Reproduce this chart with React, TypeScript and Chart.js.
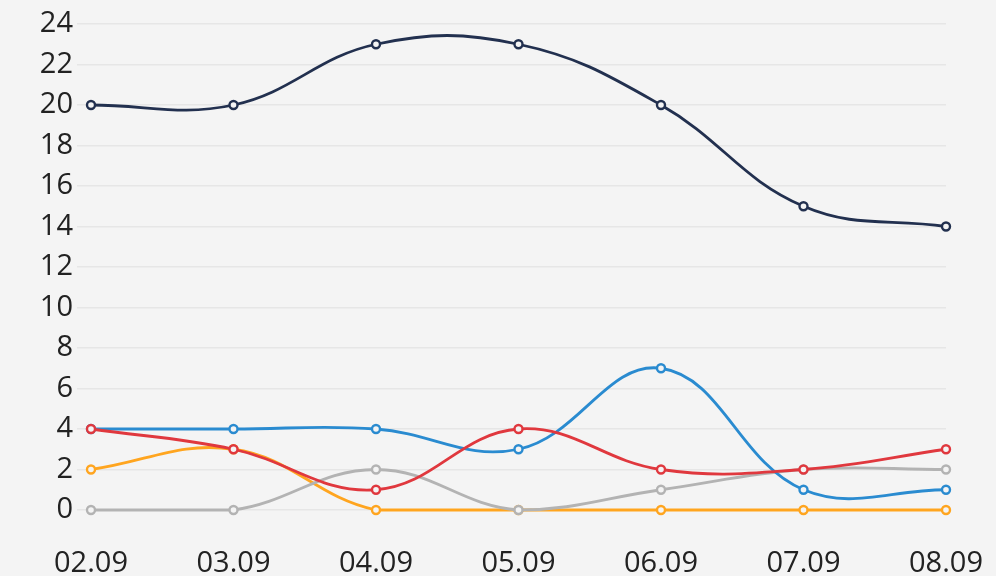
import React, { useEffect, useRef } from "react";
import { Chart, registerables } from "chart.js";

Chart.register(...registerables);

const categories = ["02.09", "03.09", "04.09", "05.09", "06.09", "07.09", "08.09"];
const navySeries = [20, 20, 23, 23, 20, 15, 14];
const blueSeries = [4, 4, 4, 3, 7, 1, 1];
const redSeries = [4, 3, 1, 4, 2, 2, 3];
const orangeSeries = [2, 3, 0, 0, 0, 0, 0];
const graySeries = [0, 0, 2, 0, 1, 2, 2];

const BG = "#f4f4f4";

function ds(label: string, data: number[], color: string) {
  return {
    label,
    data,
    borderColor: color,
    backgroundColor: color,
    borderWidth: 2.8,
    tension: 0.4,
    pointRadius: 4,
    pointBorderWidth: 2.4,
    pointBackgroundColor: BG,
    pointBorderColor: color,
    fill: false,
    clip: false as any,
  };
}

export default function App() {
  const ref = useRef<HTMLCanvasElement | null>(null);
  useEffect(() => {
    document.body.style.margin = "0";
    document.body.style.background = BG;
    const chart = new Chart(ref.current!, {
      type: "line",
      data: {
        labels: categories,
        datasets: [
          ds("Navy", navySeries, "#22304f"),
          ds("Red", redSeries, "#e0383e"),
          ds("Blue", blueSeries, "#2a8bd0"),
          ds("Gray", graySeries, "#b3b3b3"),
          ds("Orange", orangeSeries, "#ffa51f"),
        ],
      },
      options: {
        animation: false,
        responsive: false,
        maintainAspectRatio: false,
        layout: { padding: { left: 0, right: 50, top: 24, bottom: 0 } },
        plugins: { legend: { display: false }, tooltip: { enabled: false } },
        scales: {
          x: {
            offset: false,
            grid: { display: false },
            border: { display: false },
            ticks: { color: "#222", font: { family: "Open Sans", size: 29 }, padding: 28, maxRotation: 0 },
            afterFit: (s: any) => { s.height = 66; s.paddingLeft = 0; s.paddingRight = 0; },
          },
          y: {
            min: 0,
            max: 24,
            grid: { color: "#e6e6e6", lineWidth: 1.5, tickLength: 14, tickColor: "#e6e6e6" },
            border: { display: false },
            ticks: { stepSize: 2, color: "#222", font: { family: "Open Sans", size: 29 }, padding: 4 },
            afterFit: (s: any) => { s.width = 91; },
          },
        },
      },
    });
    return () => chart.destroy();
  }, []);
  return (
    <div style={{ position: "fixed", left: 0, top: 0, width: 996, height: 576, background: BG }}>
      <canvas ref={ref} width={996} height={576} style={{ width: 996, height: 576 }} />
    </div>
  );
}
